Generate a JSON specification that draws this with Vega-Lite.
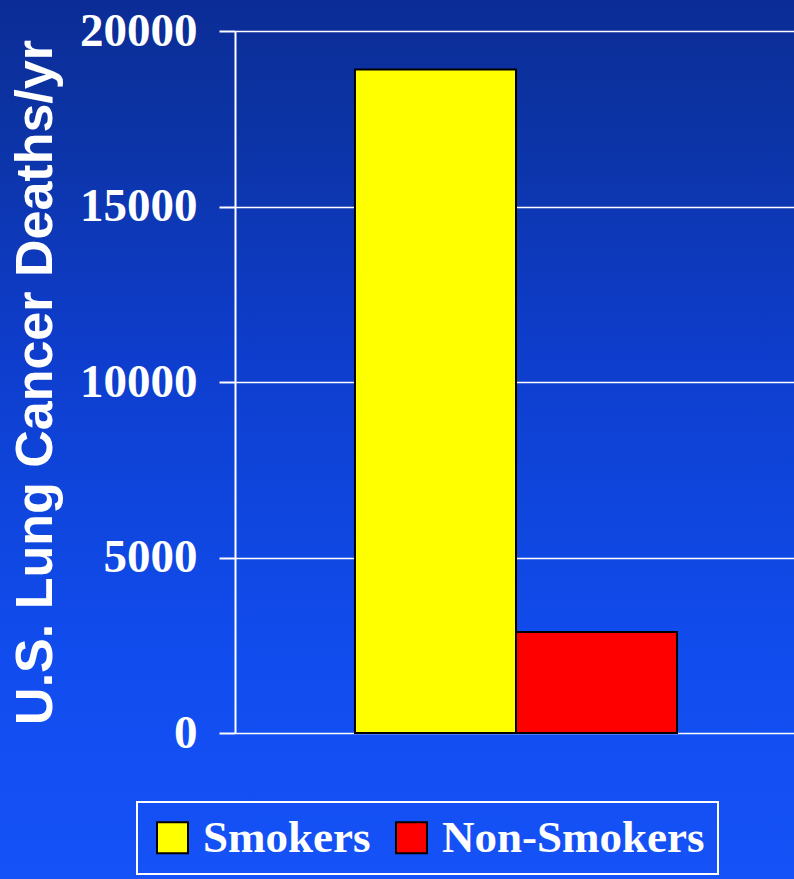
{
  "$schema": "https://vega.github.io/schema/vega-lite/v6.json",
  "width": 794,
  "height": 879,
  "autosize": {"type": "none"},
  "padding": 0,
  "background": "#1552f7",
  "config": {
    "view": {
      "stroke": null,
      "fill": {
        "gradient": "linear",
        "x1": 0, "y1": 0, "x2": 0, "y2": 1,
        "stops": [
          {"offset": 0, "color": "#0b2c96"},
          {"offset": 0.13, "color": "#0c33a3"},
          {"offset": 0.4, "color": "#0e3dcc"},
          {"offset": 0.56, "color": "#0f45dc"},
          {"offset": 0.75, "color": "#114cee"},
          {"offset": 1, "color": "#1552f7"}
        ]
      }
    }
  },
  "data": {
    "values": [
      {"group": "Smokers", "deaths": 18900},
      {"group": "Non-Smokers", "deaths": 2880}
    ]
  },
  "mark": {"type": "bar", "stroke": "black", "strokeWidth": 2},
  "encoding": {
    "x": {
      "field": "group",
      "type": "nominal",
      "sort": ["Smokers", "Non-Smokers"],
      "scale": {"range": [235, 797], "paddingInner": 0, "paddingOuter": 0.745},
      "axis": null
    },
    "y": {
      "field": "deaths",
      "type": "quantitative",
      "scale": {"domain": [0, 20000], "range": [733, 31], "nice": false},
      "axis": {
        "title": "U.S. Lung Cancer Deaths/yr",
        "values": [0, 5000, 10000, 15000, 20000],
        "format": "d",
        "offset": -235,
        "labelFont": "Liberation Serif",
        "labelFontWeight": "bold",
        "labelFontSize": 47,
        "labelColor": "white",
        "labelPadding": 22,
        "tickColor": "white",
        "tickSize": 16,
        "tickWidth": 2,
        "domainColor": "white",
        "domainWidth": 2,
        "grid": true,
        "gridColor": "white",
        "gridWidth": 1.5,
        "gridOpacity": 1,
        "titleFont": "Liberation Sans",
        "titleFontWeight": "bold",
        "titleFontSize": 52,
        "titleColor": "white",
        "titlePadding": 17
      }
    },
    "fill": {
      "field": "group",
      "type": "nominal",
      "sort": ["Smokers", "Non-Smokers"],
      "scale": {"domain": ["Smokers", "Non-Smokers"], "range": ["#ffff00", "#ff0000"]},
      "legend": {
        "title": null,
        "orient": "none",
        "legendX": 137,
        "legendY": 802,
        "direction": "horizontal",
        "symbolType": "square",
        "symbolSize": 961,
        "symbolStrokeColor": "black",
        "symbolStrokeWidth": 2,
        "symbolOpacity": 1,
        "labelFont": "Liberation Serif",
        "labelFontWeight": "bold",
        "labelFontSize": 45,
        "labelColor": "white",
        "labelOffset": 8,
        "labelLimit": 400,
        "columnPadding": 18,
        "padding": 13,
        "strokeColor": "white",
        "encode": {"legend": {"update": {"strokeWidth": {"value": 2}}}}
      }
    }
  }
}
